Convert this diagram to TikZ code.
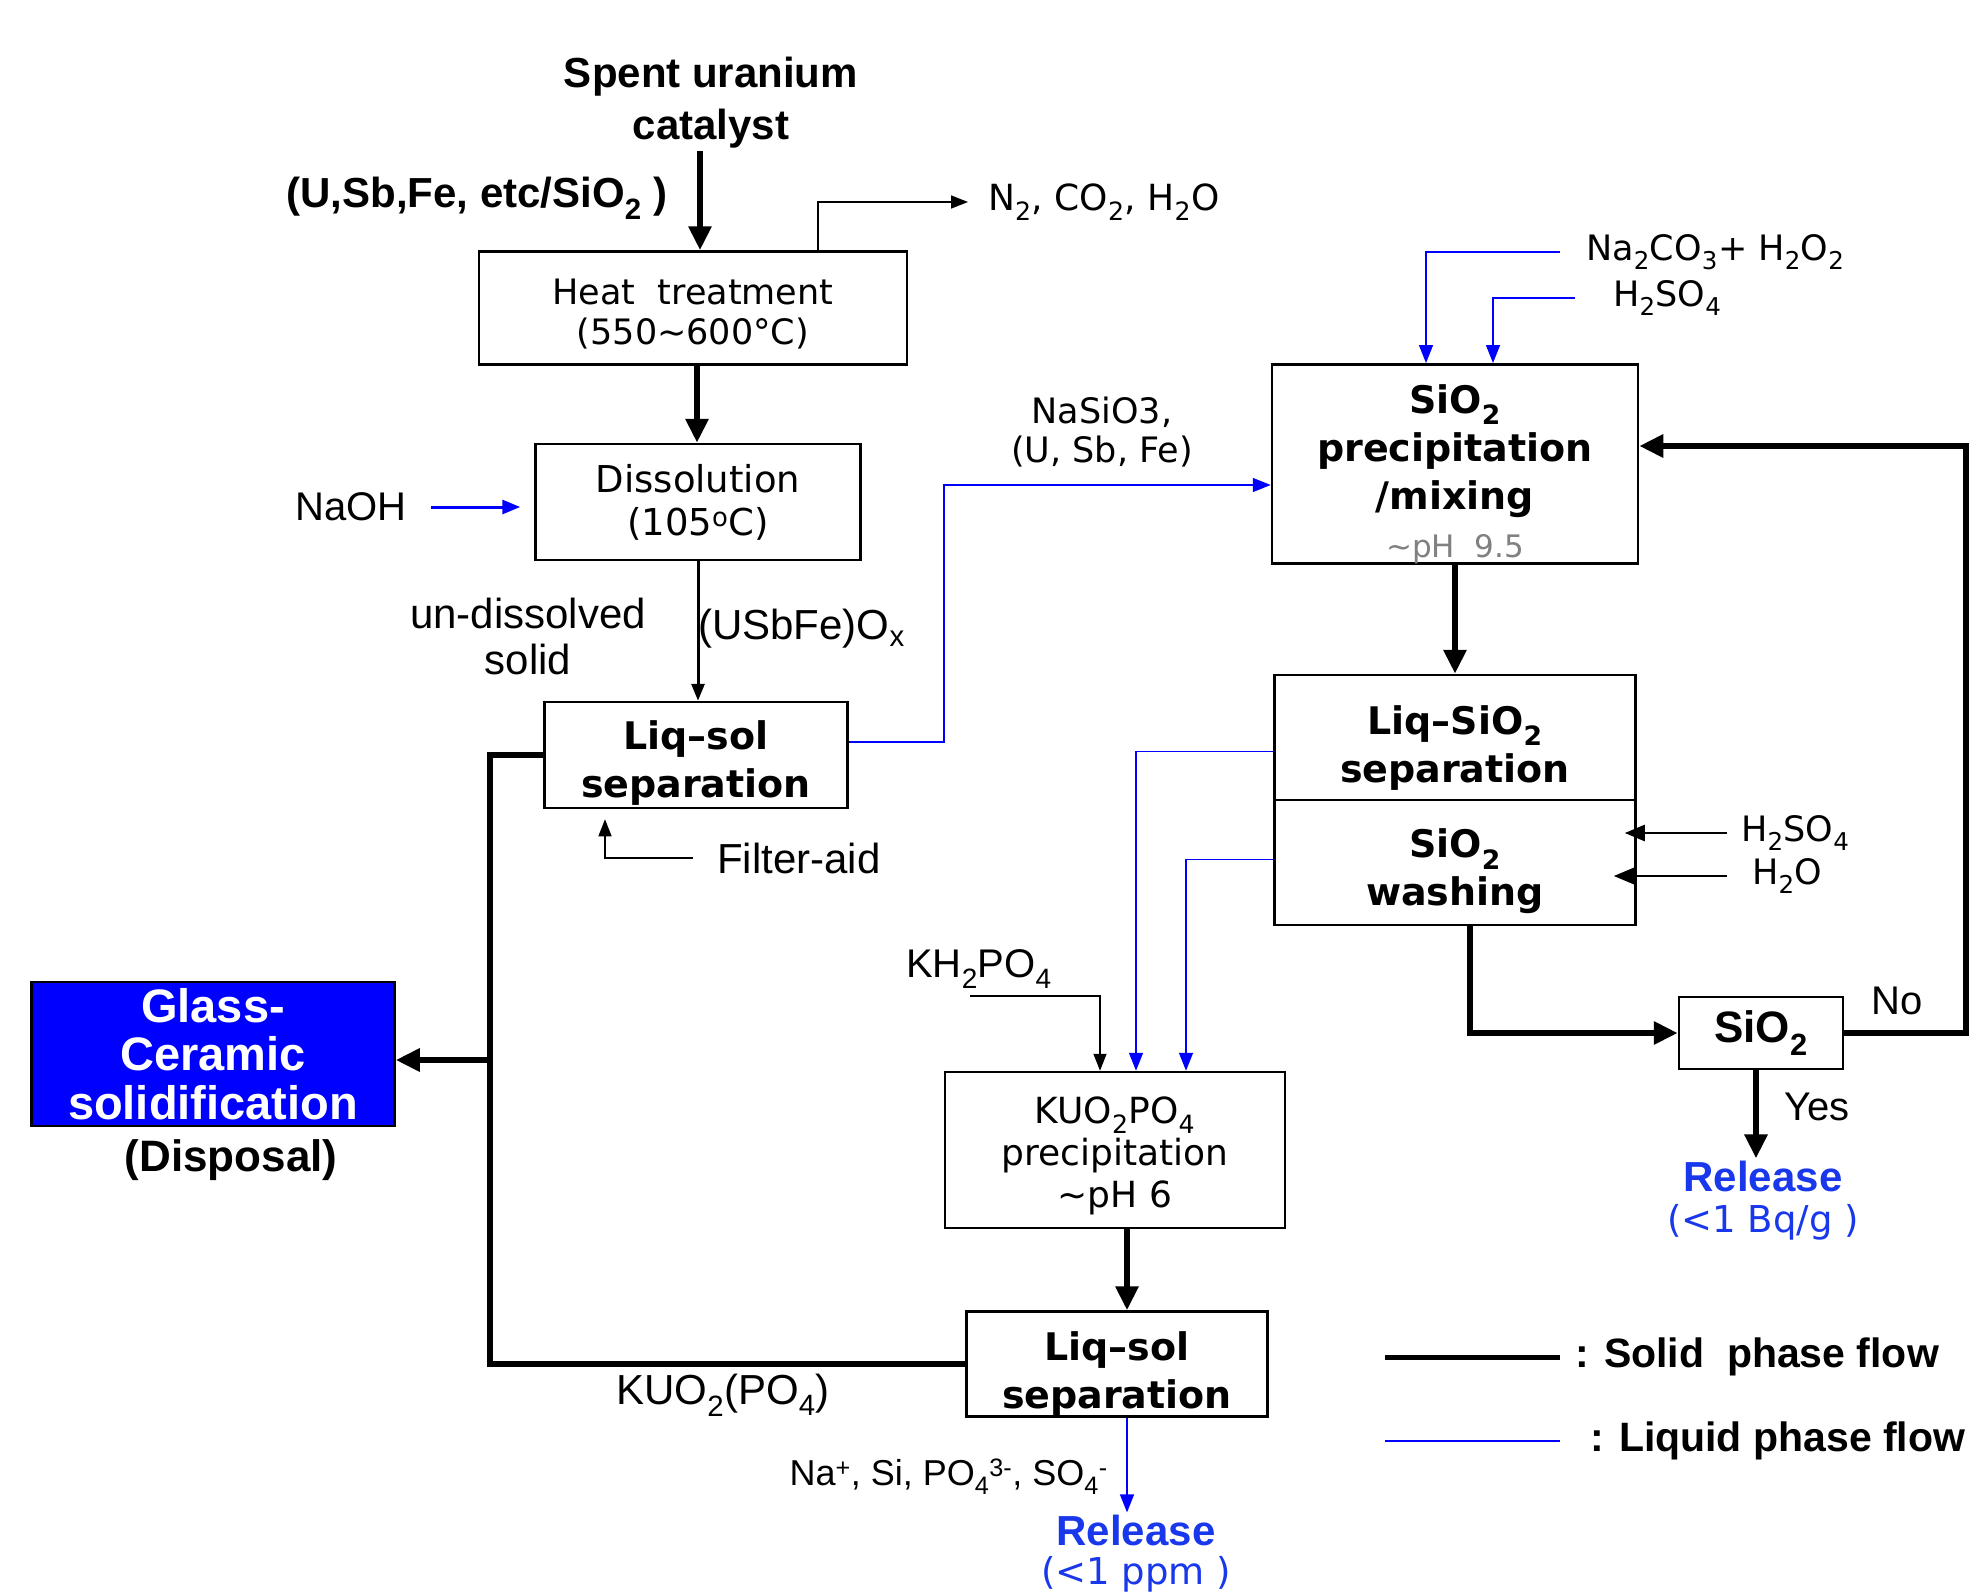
\documentclass[tikz,border=0pt]{standalone}
\usepackage{fontspec}
\setmainfont{Liberation Sans}
\newfontfamily\gulim{DejaVu Sans}
\usepackage{tikz}
\usetikzlibrary{arrows.meta,positioning}
\usepackage{xcolor}
\definecolor{flowblue}{RGB}{0,0,255}
\definecolor{relblue}{RGB}{25,55,235}
\tikzstyle{box} = [draw, line width=2.5pt, align=center, inner sep=0pt]
\tikzstyle{boxb} = [box, font=\gulim\bfseries\fontsize{38}{48}\selectfont]
\tikzstyle{lbl} = [inner sep=2pt, align=center, font=\fontsize{42}{46}\selectfont]
\tikzstyle{glbl} = [inner sep=2pt, align=center, font=\gulim\fontsize{35}{39}\selectfont]
\tikzstyle{solidline} = [line width=6pt]
\tikzstyle{solidarrow} = [line width=6pt, -{Triangle[length=24pt,width=22pt]}]
\tikzstyle{thinarrow} = [line width=1.5pt, -{Triangle[length=17pt,width=13pt]}]
\tikzstyle{liqarrow} = [line width=1.5pt, color=flowblue, -{Triangle[length=18pt,width=14pt]}]

\begin{document}
\begin{tikzpicture}[x=1pt,y=-1pt]
\path[fill=white, use as bounding box] (0,0) rectangle (1979,1593);

% Feed and process boxes
\node[lbl, font=\bfseries\fontsize{42}{52}\selectfont] (feed) at (711,103) {Spent uranium\\catalyst};
\node[lbl, font=\bfseries\fontsize{42}{50}\selectfont] (comp) at (477,198) {(U,Sb,Fe, etc/SiO\textsubscript{2} )};
\node[box, minimum width=428pt, minimum height=113pt, font=\gulim\fontsize{35}{40}\selectfont] (heat) at (693,308) {\rule{0pt}{37pt}Heat\ \ treatment\\(550\textasciitilde 600°C)};
\node[box, minimum width=325pt, minimum height=116pt, font=\gulim\fontsize{37}{43}\selectfont] (diss) at (698,502) {Dissolution\\(105\textsuperscript{o}C)};
\node[boxb, minimum width=303pt, minimum height=106pt] (ls1) at (696,755) {\rule{0pt}{45pt}Liq–sol\\separation};
\node[boxb, minimum width=366pt, minimum height=197pt] (prec) at (1455,464) {\rule{0pt}{49pt}SiO\textsubscript{2}\\precipitation\\/mixing\\{\mdseries\fontsize{31}{48}\selectfont\color{black!50}\textasciitilde pH\ \ 9.5}};
\node[boxb, minimum width=361pt, minimum height=125pt] (lsio) at (1455,737.5) {\rule{0pt}{49pt}Liq–SiO\textsubscript{2}\\separation};
\node[boxb, minimum width=361pt, minimum height=125pt] (wash) at (1455,862.5) {\rule{0pt}{47pt}SiO\textsubscript{2}\\washing};
\node[box, minimum width=164pt, minimum height=72pt, font=\bfseries\fontsize{44}{50}\selectfont] (sio) at (1761,1033) {SiO\textsubscript{2}};
\node[box, minimum width=340pt, minimum height=156pt, font=\gulim\fontsize{36}{42}\selectfont] (kuo) at (1115,1150) {\rule{0pt}{39pt}KUO\textsubscript{2}PO\textsubscript{4}\\precipitation\\\textasciitilde pH 6};
\node[boxb, minimum width=301pt, minimum height=103pt] (ls2) at (1117,1364) {\rule{0pt}{49pt}Liq–sol\\separation};
\node[box, fill=flowblue, text=white, minimum width=363pt, minimum height=144pt, font=\bfseries\fontsize{47}{48.5}\selectfont] (glass) at (213,1054) {Glass-\\Ceramic\\solidification};
\node[lbl, font=\bfseries\fontsize{44}{50}\selectfont] (disp) at (231,1160) {(Disposal)};

% Stream labels
\node[lbl, font=\fontsize{40}{46}\selectfont] (naoh) at (351,507) {NaOH};
\node[lbl] (undis) at (528,636) {un-dissolved\\solid};
\node[lbl, anchor=west] (usbfe) at (696,629) {(USbFe)O\textsubscript{x}};
\node[lbl, anchor=west] (filt) at (715,858) {Filter-aid};
\node[glbl, font=\gulim\fontsize{36}{39}\selectfont, anchor=west] (gas) at (986,202) {N\textsubscript{2}, CO\textsubscript{2}, H\textsubscript{2}O};
\node[glbl] (nasio) at (1102,432) {NaSiO3,\\(U, Sb, Fe)};
\node[glbl, anchor=west] (carb) at (1584,252) {Na\textsubscript{2}CO\textsubscript{3}+ H\textsubscript{2}O\textsubscript{2}};
\node[glbl, anchor=west] (acid1) at (1611,298) {H\textsubscript{2}SO\textsubscript{4}};
\node[glbl, anchor=west] (acid2) at (1739,833) {H\textsubscript{2}SO\textsubscript{4}};
\node[glbl, anchor=west] (water) at (1750,876) {H\textsubscript{2}O};
\node[lbl, font=\fontsize{40}{46}\selectfont, anchor=west] (kh) at (904,969) {KH\textsubscript{2}PO\textsubscript{4}};
\node[lbl, font=\fontsize{40}{46}\selectfont] (no) at (1897,1001) {No};
\node[lbl, font=\fontsize{40}{46}\selectfont] (yes) at (1817,1107) {Yes};
\node[lbl, text=relblue, font=\bfseries\fontsize{42}{48}\selectfont] (rel1) at (1763,1176) {Release};
\node[glbl, font=\gulim\fontsize{37}{40}\selectfont, text=relblue] (bq) at (1763,1222) {(<1 Bq/g )};
\node[lbl] (kuopo) at (723,1395) {KUO\textsubscript{2}(PO\textsubscript{4})};
\node[lbl, anchor=east, font=\fontsize{36}{40}\selectfont] (ions) at (1110,1477) {Na\textsuperscript{+}, Si, PO\textsubscript{4}\textsuperscript{3-}, SO\textsubscript{4}\textsuperscript{-}};
\node[lbl, text=relblue, font=\bfseries\fontsize{42}{48}\selectfont] (rel2) at (1136,1530) {Release};
\node[glbl, font=\gulim\fontsize{37}{40}\selectfont, text=relblue] (ppm) at (1136,1574) {(<1 ppm )};

% Legend
\node[lbl, anchor=west, font=\bfseries\fontsize{41}{45}\selectfont] (leg1) at (1573,1357) {: Solid\ \ phase flow};
\node[lbl, anchor=west, font=\bfseries\fontsize{41}{45}\selectfont] (leg2) at (1588,1441) {: Liquid phase flow};
\draw[line width=5pt] ([xshift=-188pt]leg1.west) -- ([xshift=-13pt]leg1.west);
\draw[flowblue, line width=2.5pt] ([xshift=-203pt]leg2.west) -- ([xshift=-28pt]leg2.west);

% Left train
\draw[solidarrow] ([xshift=7pt]feed.south -| heat.north) -- ([xshift=7pt]heat.north);
\draw[thinarrow] ([xshift=125pt]heat.north) |- ([xshift=-18pt]gas.west);
\draw[solidarrow] ([xshift=4pt]heat.south) -- ([xshift=4pt]heat.south |- diss.north);
\draw[liqarrow, line width=3pt] ([xshift=22pt]naoh.east) -- ([xshift=-14pt]naoh.east -| diss.west);
\draw[thinarrow, line width=3pt] (diss.south) -- (diss.south |- ls1.north);
\draw[thinarrow] ([xshift=-22pt]filt.west) -| ([xshift=-91pt,yshift=-10pt]ls1.south);
\coordinate (bend) at (944,485);
\draw[liqarrow] ([yshift=13pt]ls1.east) -| (bend) -- (bend -| prec.west);
\coordinate (split) at (490,1060);
\draw[solidline] (ls1.west) -| (split) |- (ls2.west);
\draw[solidarrow] (split) -- (split -| glass.east);

% Right train
\draw[liqarrow] ([xshift=-24pt]carb.west) -| ([xshift=-29pt]prec.north);
\draw[liqarrow] ([xshift=-36pt]acid1.west) -| ([xshift=38pt]prec.north);
\draw[solidarrow] (prec.south) -- (lsio.north);
\draw[liqarrow] ([yshift=-14pt]lsio.west) -| ([xshift=21pt]kuo.north);
\draw[liqarrow] ([yshift=3pt]wash.west) -| ([xshift=71pt]kuo.north);
\draw[thinarrow] ([xshift=66pt,yshift=-27pt]kh.west) -| ([xshift=-15pt]kuo.north);
\draw[thinarrow, line width=2.5pt, -{Triangle[length=20pt,width=16pt]}] ([xshift=-12pt]acid2.west) -- ([xshift=-12pt]acid2.west -| wash.east);
\draw[thinarrow, line width=2.5pt, -{Triangle[length=20pt,width=16pt]}] ([xshift=-23pt]water.west) -- ([xshift=-23pt]water.west -| wash.east);
\draw[solidarrow] ([xshift=15pt]wash.south) |- (sio.west);
\coordinate (loop) at (1966,446);
\draw[solidarrow] (sio.east) -| (loop) -- (loop -| prec.east);
\draw[solidarrow] ([xshift=-5pt]sio.south) -- ([xshift=-5pt]sio.south |- rel1.north);
\draw[solidarrow] ([xshift=12pt]kuo.south) -- ([xshift=12pt]kuo.south |- ls2.north);
\draw[liqarrow] ([xshift=10pt]ls2.south) -- ([xshift=10pt]ls2.south |- rel2.north);
\end{tikzpicture}
\end{document}
